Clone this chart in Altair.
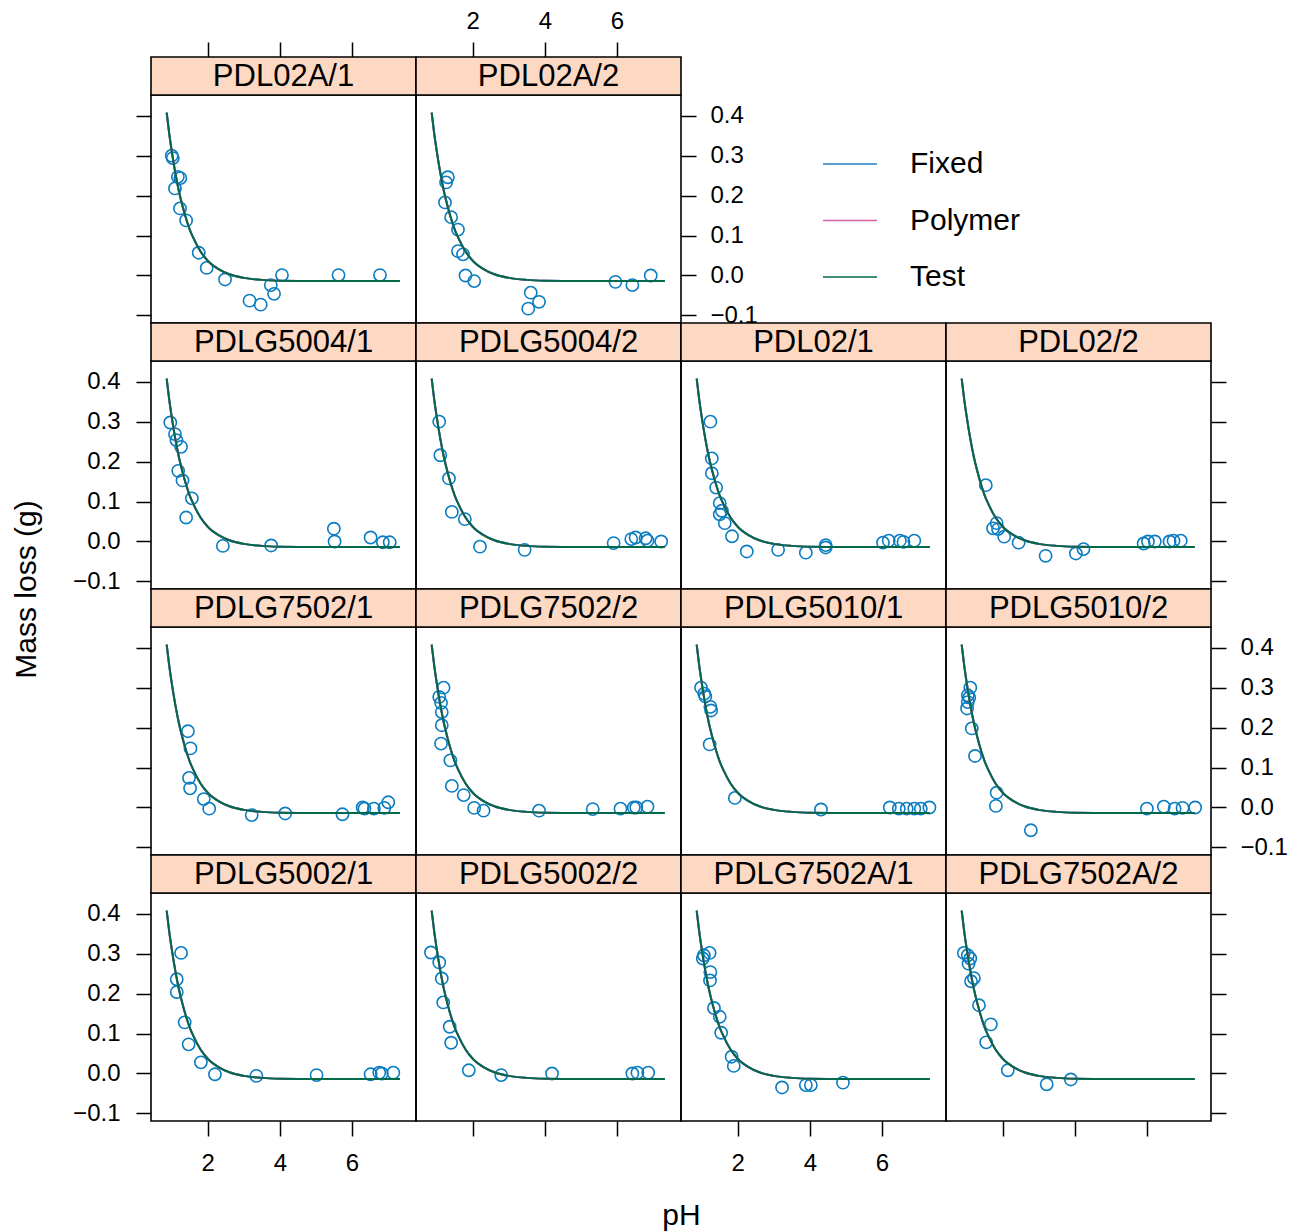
import altair as alt
import pandas as pd

FONT = "Liberation Sans"
POINT_COLOR = "#0A7CC1"
STRIP_FILL = "#FDD9C4"

SERIES = ["Fixed", "Polymer", "Test"]
SERIES_COLORS = ["#1F7EC6", "#D45FA4", "#00694A"]

Y_TICKS = [-0.1, 0.0, 0.1, 0.2, 0.3, 0.4]
X_TICKS = [2, 4, 6]

# fitted curve (same in every panel)
fit_ph = [0.86, 0.93, 1.0, 1.1, 1.2, 1.3, 1.4, 1.5, 1.6, 1.8, 2.0, 2.3, 2.6, 3.0, 3.5, 4.0, 5.0, 6.0, 7.33]
fit_y = [0.408, 0.356, 0.312, 0.257, 0.211, 0.174, 0.142, 0.115, 0.094, 0.060, 0.037, 0.016, 0.003, -0.006, -0.011, -0.013, -0.014, -0.014, -0.014]

# observed points per panel
PDL02A_1_ph = [1.00, 1.03, 1.17, 1.24, 1.09, 1.23, 1.40, 1.75, 1.97, 2.48, 3.16, 3.47, 3.75, 3.84, 4.06, 5.63, 6.78]
PDL02A_1_y = [0.300, 0.294, 0.247, 0.244, 0.218, 0.168, 0.138, 0.057, 0.019, -0.010, -0.063, -0.073, -0.024, -0.046, 0.001, 0.001, 0.001]

PDL02A_2_ph = [1.31, 1.26, 1.23, 1.40, 1.59, 1.59, 1.73, 1.80, 2.04, 3.61, 3.84, 3.54, 5.96, 6.43, 6.94]
PDL02A_2_y = [0.246, 0.233, 0.183, 0.146, 0.115, 0.061, 0.053, 0.000, -0.014, -0.043, -0.066, -0.083, -0.016, -0.024, 0.000]

PDLG5004_1_ph = [0.96, 1.09, 1.13, 1.26, 1.18, 1.30, 1.56, 1.40, 2.42, 3.76, 5.50, 5.52, 6.52, 6.86, 7.05]
PDLG5004_1_y = [0.298, 0.269, 0.254, 0.237, 0.177, 0.153, 0.108, 0.060, -0.011, -0.010, 0.032, 0.000, 0.010, -0.002, -0.002]

PDLG5004_2_ph = [1.07, 1.10, 1.34, 1.42, 1.78, 2.20, 3.44, 5.91, 6.40, 6.52, 6.80, 6.85, 7.23]
PDLG5004_2_y = [0.300, 0.216, 0.158, 0.074, 0.056, -0.013, -0.021, -0.004, 0.006, 0.010, 0.008, 0.002, 0.000]

PDL02_1_ph = [1.24, 1.28, 1.28, 1.40, 1.50, 1.56, 1.50, 1.64, 1.84, 2.25, 3.12, 3.89, 4.44, 4.44, 6.03, 6.19, 6.50, 6.60, 6.90]
PDL02_1_y = [0.300, 0.208, 0.171, 0.135, 0.096, 0.077, 0.068, 0.046, 0.013, -0.025, -0.021, -0.028, -0.009, -0.015, -0.003, 0.002, 0.002, -0.001, 0.002]

PDL02_2_ph = [1.53, 1.83, 1.73, 1.87, 2.04, 2.44, 3.19, 4.03, 4.24, 5.91, 6.03, 6.22, 6.63, 6.74, 6.94]
PDL02_2_y = [0.141, 0.046, 0.033, 0.031, 0.012, -0.003, -0.036, -0.030, -0.019, -0.005, 0.000, 0.000, 0.000, 0.002, 0.002]

PDLG7502_1_ph = [1.45, 1.52, 1.48, 1.51, 1.89, 2.04, 3.22, 4.15, 5.74, 6.30, 6.35, 6.61, 6.90, 7.01]
PDLG7502_1_y = [0.191, 0.148, 0.074, 0.048, 0.021, -0.003, -0.019, -0.015, -0.017, 0.000, -0.003, -0.003, -0.001, 0.013]

PDLG7502_2_ph = [1.19, 1.07, 1.12, 1.14, 1.14, 1.12, 1.38, 1.42, 1.75, 2.04, 2.30, 3.84, 5.33, 6.10, 6.47, 6.54, 6.85]
PDLG7502_2_y = [0.300, 0.277, 0.262, 0.239, 0.206, 0.160, 0.118, 0.054, 0.031, -0.001, -0.008, -0.008, -0.004, -0.003, 0.000, 0.000, 0.002]

PDLG5010_1_ph = [0.98, 1.07, 1.10, 1.24, 1.26, 1.22, 1.92, 4.31, 6.22, 6.47, 6.69, 6.90, 7.08, 7.32]
PDLG5010_1_y = [0.300, 0.285, 0.278, 0.252, 0.243, 0.158, 0.024, -0.005, 0.000, -0.003, -0.003, -0.003, -0.003, 0.000]

PDLG5010_2_ph = [1.10, 1.03, 1.07, 1.03, 1.01, 1.14, 1.23, 1.83, 1.81, 2.78, 6.00, 6.47, 6.77, 6.99, 7.34]
PDLG5010_2_y = [0.300, 0.281, 0.275, 0.264, 0.248, 0.198, 0.129, 0.037, 0.004, -0.057, -0.003, 0.002, -0.003, -0.001, 0.000]

PDLG5002_1_ph = [1.26, 1.14, 1.14, 1.36, 1.47, 1.81, 2.20, 3.35, 5.02, 6.52, 6.76, 6.83, 7.15]
PDLG5002_1_y = [0.302, 0.236, 0.204, 0.128, 0.073, 0.028, -0.002, -0.006, -0.004, -0.002, 0.002, 0.000, 0.002]

PDLG5002_2_ph = [0.84, 1.07, 1.14, 1.18, 1.36, 1.40, 1.89, 2.79, 4.20, 6.43, 6.57, 6.87]
PDLG5002_2_y = [0.303, 0.278, 0.238, 0.178, 0.117, 0.077, 0.008, -0.004, 0.000, 0.000, 0.002, 0.002]

PDLG7502A_1_ph = [1.06, 1.22, 1.03, 1.24, 1.23, 1.34, 1.50, 1.54, 1.83, 1.89, 3.23, 3.89, 4.03, 4.92]
PDLG7502A_1_y = [0.296, 0.302, 0.288, 0.254, 0.233, 0.164, 0.142, 0.102, 0.042, 0.019, -0.035, -0.029, -0.029, -0.023]

PDLG7502A_2_ph = [0.92, 1.03, 1.10, 1.05, 1.20, 1.12, 1.34, 1.67, 1.54, 2.14, 3.22, 3.89]
PDLG7502A_2_y = [0.302, 0.296, 0.288, 0.275, 0.239, 0.231, 0.171, 0.123, 0.078, 0.008, -0.027, -0.015]

PANEL_W, PANEL_H, STRIP_H = 265, 228, 38
XDOM = [0.425, 7.78]
YDOM = [-0.119, 0.452]

curve_df = pd.DataFrame({
    "ph": fit_ph * len(SERIES),
    "y": fit_y * len(SERIES),
    "series": [s for s in SERIES for _ in fit_ph],
})
color_scale = alt.Scale(domain=SERIES, range=SERIES_COLORS)

common_axis = dict(domain=False, grid=False, tickSize=15, tickWidth=1.5, tickColor="black",
                   labelFont=FONT, labelFontSize=24, labelColor="black")


def y_axis(orient, labels, title=False):
    kw = dict(common_axis, orient=orient, values=Y_TICKS, format=".1f", labels=labels,
              labelPadding=16 if orient == "left" else 14)
    if title:
        kw.update(title="Mass loss (g)", titleX=-125, titleY=228, titleAngle=270, titleAlign="center",
                  titleBaseline="middle", titleFont=FONT, titleFontSize=30, titleFontWeight="normal",
                  titleColor="black")
    return alt.Axis(**kw)


def x_axis(orient, labels, title=False):
    kw = dict(common_axis, orient=orient, values=X_TICKS, format="d", labels=labels)
    if orient == "top":
        kw.update(offset=STRIP_H, labelPadding=9)
    else:
        kw.update(labelPadding=15)
    if title:
        kw.update(title="pH", titleX=265, titleY=103, titleAlign="center", titleBaseline="alphabetic",
                  titleFont=FONT, titleFontSize=30, titleFontWeight="normal", titleColor="black")
    return alt.Axis(**kw)


def panel(name, ph, vals, yax=None, xax=None):
    y_enc = alt.Y("y:Q", scale=alt.Scale(domain=YDOM, nice=False, zero=False),
                  axis=yax if yax is not None else None, title=None)
    x_enc = alt.X("ph:Q", scale=alt.Scale(domain=XDOM, nice=False, zero=False),
                  axis=xax if xax is not None else None, title=None)
    lab = pd.DataFrame({"name": [name]})
    strip = alt.Chart(lab).mark_rect(fill=STRIP_FILL, stroke="black", strokeWidth=1.6).encode(
        x=alt.value(0), x2=alt.value(PANEL_W), y=alt.value(-STRIP_H), y2=alt.value(0))
    strip_text = alt.Chart(lab).mark_text(font=FONT, fontSize=31, color="black", baseline="middle",
                                          align="center", dy=1).encode(
        text="name:N", x=alt.value(PANEL_W / 2), y=alt.value(-STRIP_H / 2))
    pts = alt.Chart(pd.DataFrame({"ph": ph, "y": vals})).mark_point(
        shape="circle", filled=False, size=150, strokeWidth=1.6, color=POINT_COLOR, opacity=1).encode(
        x=x_enc, y=y_enc)
    lines = alt.Chart(curve_df).mark_line(strokeWidth=2, interpolate="monotone").encode(
        x=x_enc, y=y_enc, color=alt.Color("series:N", scale=color_scale, legend=None),
        order=alt.Order("ph:Q"))
    return alt.layer(strip, strip_text, pts, lines).properties(width=PANEL_W, height=PANEL_H)


legend_df = pd.DataFrame({"series": SERIES})
legend_y = alt.Y("series:N", scale=alt.Scale(domain=SERIES, range=[40.75, 210.25]), axis=None)
legend_lines = alt.Chart(legend_df).mark_rule(strokeWidth=1.6).encode(
    x=alt.value(142), x2=alt.value(196), y=legend_y,
    color=alt.Color("series:N", scale=color_scale, legend=None))
legend_text = alt.Chart(legend_df).mark_text(font=FONT, fontSize=30, align="left", baseline="middle",
                                             color="black").encode(
    x=alt.value(229), y=legend_y, text="series:N")
legend_cell = alt.layer(legend_lines, legend_text).properties(
    width=PANEL_W, height=PANEL_H, view=alt.ViewBackground(stroke="transparent"))
empty_cell = alt.Chart(legend_df).mark_point(opacity=0).encode(
    x=alt.value(0), y=alt.value(0)).properties(
    width=PANEL_W, height=PANEL_H, view=alt.ViewBackground(stroke="transparent"))

cells = [
    panel("PDL02A/1", PDL02A_1_ph, PDL02A_1_y, yax=y_axis("left", False), xax=x_axis("top", False)),
    panel("PDL02A/2", PDL02A_2_ph, PDL02A_2_y, yax=y_axis("right", True), xax=x_axis("top", True)),
    legend_cell,
    empty_cell,
    panel("PDLG5004/1", PDLG5004_1_ph, PDLG5004_1_y, yax=y_axis("left", True, title=True)),
    panel("PDLG5004/2", PDLG5004_2_ph, PDLG5004_2_y),
    panel("PDL02/1", PDL02_1_ph, PDL02_1_y),
    panel("PDL02/2", PDL02_2_ph, PDL02_2_y, yax=y_axis("right", False)),
    panel("PDLG7502/1", PDLG7502_1_ph, PDLG7502_1_y, yax=y_axis("left", False)),
    panel("PDLG7502/2", PDLG7502_2_ph, PDLG7502_2_y),
    panel("PDLG5010/1", PDLG5010_1_ph, PDLG5010_1_y),
    panel("PDLG5010/2", PDLG5010_2_ph, PDLG5010_2_y, yax=y_axis("right", True)),
    panel("PDLG5002/1", PDLG5002_1_ph, PDLG5002_1_y, yax=y_axis("left", True), xax=x_axis("bottom", True)),
    panel("PDLG5002/2", PDLG5002_2_ph, PDLG5002_2_y, xax=x_axis("bottom", False, title=True)),
    panel("PDLG7502A/1", PDLG7502A_1_ph, PDLG7502A_1_y, xax=x_axis("bottom", True)),
    panel("PDLG7502A/2", PDLG7502A_2_ph, PDLG7502A_2_y, yax=y_axis("right", False), xax=x_axis("bottom", False)),
]

chart = alt.concat(
    *cells, columns=4, spacing={"row": STRIP_H, "column": 0}, bounds="flush", align="all"
).properties(
    padding={"left": 2, "top": 0, "right": 5, "bottom": 0}, background="white"
).configure_view(stroke="black", strokeWidth=1.6)

chart.save("out.html", embed_options={"renderer": "svg", "actions": False})
